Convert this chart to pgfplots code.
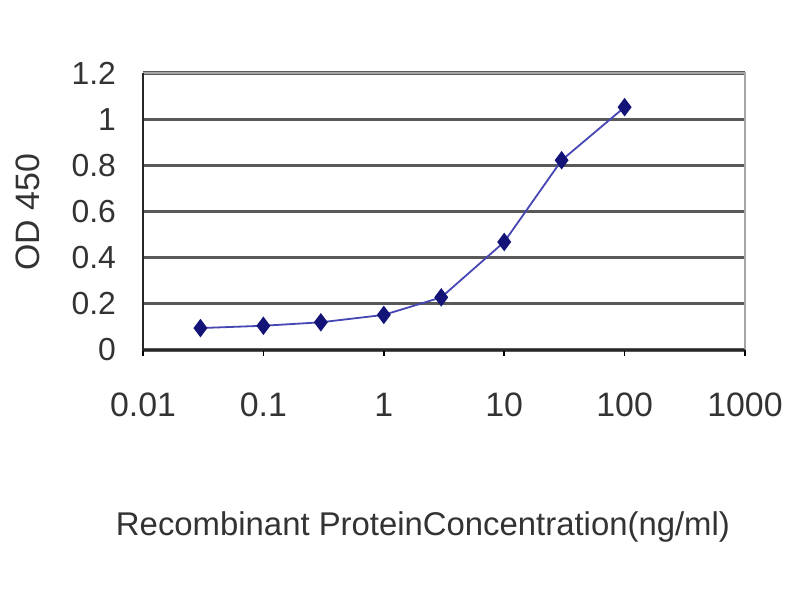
\documentclass[border=0pt]{standalone}
\usepackage{pgfplots}
\pgfplotsset{compat=1.18}
\usepackage{fontspec}
\setmainfont{Liberation Sans}
\definecolor{navy}{RGB}{20,20,120}
\definecolor{lineblue}{RGB}{70,70,180}
\begin{document}
\begin{tikzpicture}[x=1bp,y=1bp]
\path[use as bounding box] (0,0) rectangle (400,300);
\begin{axis}[
  at={(71.5bp,125bp)}, anchor=south west,
  scale only axis,
  width=301bp, height=138.5bp,
  xmode=log, log basis x=10,
  xmin=0.01, xmax=1000,
  ymin=0, ymax=1.2,
  xtick={0.01,0.1,1,10,100,1000},
  xticklabels={0.01,0.1,1,10,100,1000},
  ytick={0,0.2,0.4,0.6,0.8,1,1.2},
  yticklabels={0,0.2,0.4,0.6,0.8,1,1.2},
  xminorticks=false,
  tick align=outside,
  xtick pos=bottom,
  ytick pos=left,
  major tick length=3bp,
  ytick style={draw=none},
  xtick style={black, line width=0.8bp},
  ymajorgrids,
  major grid style={draw=black!65, line width=1.6bp},
  axis line style={draw=none},
  xticklabel style={font=\fontsize{17}{19}\selectfont, text=black!80, yshift=-15bp},
  yticklabel style={font=\fontsize{16}{18}\selectfont, text=black!80, xshift=-7bp},
  clip=false,
]
\draw[gray!70, line width=1.2bp] (rel axis cs:0,1) -- (rel axis cs:1,1) -- (rel axis cs:1,0);
\draw[black!85, line width=1bp] (rel axis cs:0,1) -- (rel axis cs:0,0) -- (rel axis cs:1,0);
\addplot[lineblue, line width=0.9bp, mark=diamond*, mark size=3.9bp,
  mark options={fill=navy, draw=navy}]
coordinates {
 (0.03,0.095) (0.1,0.105) (0.3,0.12) (1,0.152) (3,0.228) (10,0.468) (30,0.822) (100,1.052)
};
\end{axis}
\node[font=\fontsize{17}{19}\selectfont, text=black!80, rotate=90] at (14,194) {OD 450};
\node[font=\fontsize{16.5}{19}\selectfont, text=black!80] at (211.5,36.5) {Recombinant ProteinConcentration(ng/ml)};
\end{tikzpicture}
\end{document}
